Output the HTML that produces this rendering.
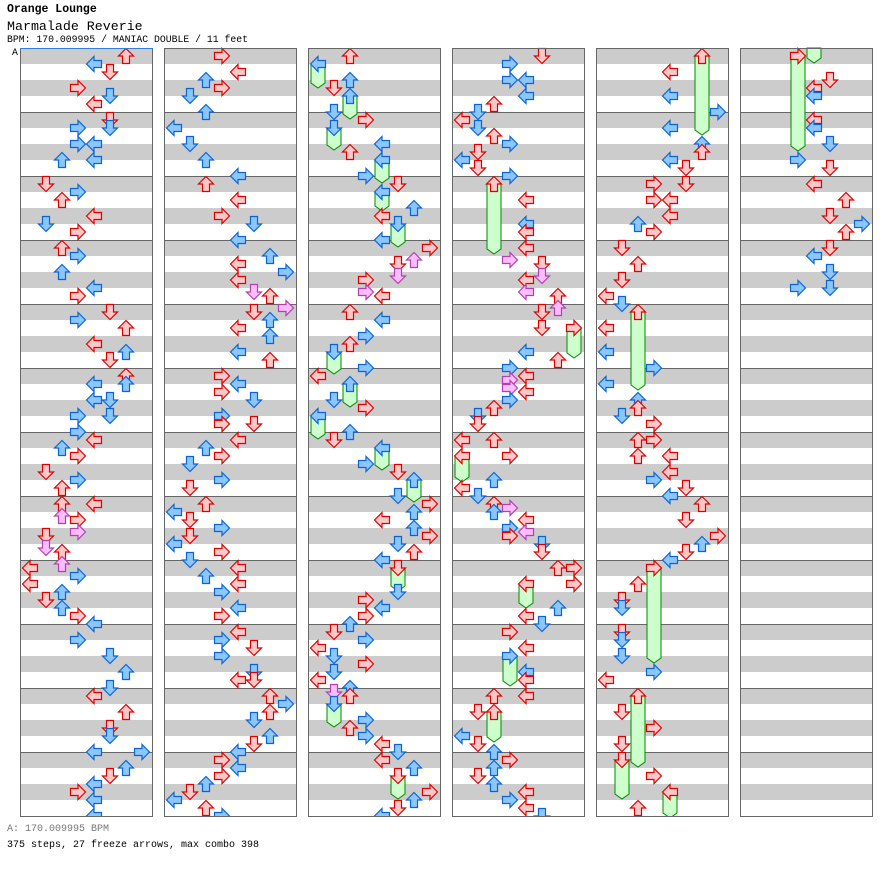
<!DOCTYPE html>
<html><head><meta charset="utf-8">
<style>
body{margin:0;background:#fff;width:896px;height:876px;overflow:hidden;position:relative;font-family:"Liberation Mono",monospace;}
.t{position:absolute;left:7px;white-space:pre;color:#000;}
</style></head><body>
<div class="t" style="top:3px;font-size:11.5px;font-weight:bold;">Orange Lounge</div>
<div class="t" style="top:19px;font-size:13.3px;">Marmalade Reverie</div>
<div class="t" style="top:34px;font-size:9.8px;">BPM: 170.009995 / MANIAC DOUBLE / 11 feet</div>
<div class="t" style="top:47px;left:12px;font-size:9.8px;">A</div>
<div class="t" style="top:824px;font-size:10px;color:#777;">A: 170.009995 BPM</div>
<div class="t" style="top:840px;font-size:10px;">375 steps, 27 freeze arrows, max combo 398</div>
<svg id="s" width="896" height="876" style="position:absolute;left:0;top:0" xmlns="http://www.w3.org/2000/svg"></svg>
<script>
var cols=[
{a:"r6 48,b4 56,r5 64,r3 80,b5 88,r4 96,r5 112,b5 120,b3 120,b3 136,b4 136,b2 152,b4 152,r1 176,b3 184,r2 192,r4 208,b1 216,r3 224,r2 240,b3 248,b2 264,b4 280,r3 288,r5 304,b3 312,r6 320,r4 336,b6 344,r5 352,r6 368,b6 376,b4 376,b4 392,b5 392,b3 408,b5 408,b3 424,r4 432,b2 440,r3 448,r1 464,b3 472,r2 480,r2 496,r4 496,p2 508,r3 512,p3 524,r1 528,p1 540,r2 544,p2 556,r0 560,b3 568,r0 576,b2 584,r1 592,b2 600,r3 608,b4 616,b3 632,b5 648,b6 664,b5 680,r4 688,r6 704,r5 720,b5 728,b4 744,b7 744,b6 760,r5 768,b4 776,r3 784,b4 792,b4 808",f:""},
{a:"r3 48,r4 64,b2 72,r3 80,b1 88,b2 104,b0 120,b1 136,b2 152,b4 168,r2 176,r4 192,r3 208,b5 216,b4 232,b6 248,r4 256,b7 264,r4 272,p5 284,r6 288,p7 300,r5 304,b6 312,r4 320,b6 328,b4 344,r6 352,r3 368,b4 376,r3 384,b5 392,b3 408,r3 416,r5 416,r4 432,b2 440,r3 448,b1 456,b3 472,r1 480,r2 496,b0 504,r1 512,b3 520,r1 528,b0 536,r3 544,b1 552,r4 560,b2 568,r4 576,b3 584,b4 600,r3 608,r4 624,b3 632,r5 640,b3 648,b5 664,r5 672,r4 672,r6 688,b7 696,r6 704,b5 712,b6 728,r5 736,b4 744,r3 752,b4 760,r3 768,b2 776,r1 784,b0 792,r2 800,b3 808",f:""},
{a:"b0 56,r2 48,b2 72,r1 80,b2 88,b1 104,r3 112,b1 120,r2 144,b4 136,b3 168,b4 152,r5 176,b4 184,b6 200,r4 208,b5 216,b4 232,r7 240,p6 252,r5 256,p5 268,r3 272,p3 284,r4 288,r2 304,b4 312,b3 328,r2 336,b1 344,b3 360,r0 368,b2 376,b1 392,r3 400,b0 408,b2 424,r1 432,b4 440,b3 456,r5 464,b6 472,b5 488,r7 496,b6 504,r4 512,b6 520,r7 528,b5 536,r6 544,b4 552,r5 560,b5 584,r3 592,b4 600,r3 608,b2 616,r1 624,b3 632,r0 640,b1 648,r3 656,b1 664,r0 672,b2 680,p1 684,r2 688,b1 696,b3 712,r2 720,b3 728,r4 736,b5 744,r4 752,b6 760,r5 768,r7 784,b6 792,r5 800,b4 808",
 f:"0 56 88,2 88 119,1 120 150,4 152 183,4 184 211,5 216 247,1 344 374,2 376 407,0 408 439,4 440 470,6 472 502,5 560 591,1 696 727,5 768 799"},
{a:"r5 48,b3 56,b3 72,b4 72,b4 88,r2 96,b1 104,r0 112,b1 120,r2 128,b3 136,r1 144,b0 152,r1 160,b3 168,r2 176,r4 192,b4 216,r4 224,r4 240,p3 252,r5 256,p5 268,r4 272,p4 284,r6 288,p6 300,r5 304,r5 320,r7 320,b4 344,r6 352,b3 360,r4 368,p3 372,p3 380,r4 384,b3 392,r2 400,b1 408,r1 416,r0 432,r2 432,r3 448,r0 448,b2 472,r0 480,b1 488,r2 496,p3 500,b2 504,r4 512,b3 520,p4 524,r3 528,b5 536,r5 544,r6 560,r7 560,r7 576,r4 576,b6 600,r4 608,b5 616,r3 624,r4 640,b3 648,b4 664,r4 672,r4 688,r2 688,r1 704,r2 704,b0 728,r1 736,b2 744,r3 752,b2 760,r1 768,b2 776,r4 784,b3 792,r4 800,b5 808",
 f:"2 176 254,7 320 358,0 448 482,4 576 608,3 648 686,2 704 742"},
{a:"r6 48,r4 64,b4 88,b7 104,b4 120,b6 136,r6 144,b4 152,r5 160,r5 176,r3 176,r3 192,r4 192,r4 208,b2 216,r3 224,r1 240,r2 256,r1 272,r0 288,b1 296,r2 304,r0 320,b0 344,b3 360,b0 376,b2 392,r2 400,b1 408,r3 416,r2 432,r3 432,r2 448,r4 448,r4 464,b3 472,r5 480,b4 488,r6 496,r5 512,r7 528,b6 536,r5 544,b4 552,r3 560,r2 576,r1 592,b1 600,r1 624,b1 632,b1 648,b3 664,r0 672,r2 688,r1 704,r3 720,r1 736,r1 752,r3 768,r4 784,r2 800",
 f:"6 48 135,2 304 390,3 560 663,2 688 767,1 752 799,4 784 818"},
{a:"r3 48,r5 72,r4 80,b4 88,r4 112,b4 120,b5 136,b3 152,r5 160,r4 176,r6 192,r5 208,b7 216,r6 224,r5 240,b4 248,b5 264,b3 280,b5 280",
 f:"3 48 151,4 40 63"}
];
var C={r:["#ffc8c8","#e00000"],b:["#8cc6ff","#0a64d8"],p:["#ffbcff","#b040b0"]};
var rot=[0,-90,90,180];
var h='';
cols.forEach(function(c,i){
 var x0=20+144*i;
 for(var m=0;m<12;m++){var y=48+64*m;
  h+='<rect x="'+x0+'" y="'+y+'" width="132" height="16" fill="#cccccc"/><rect x="'+x0+'" y="'+(y+32)+'" width="132" height="16" fill="#cccccc"/>';
  if(m>0)h+='<line x1="'+x0+'" x2="'+(x0+132)+'" y1="'+(y+0.5)+'" y2="'+(y+0.5)+'" stroke="#666"/>';}
});
h+='<g clip-path="url(#cp)">';
cols.forEach(function(c,i){
 var x0=20+144*i;
 if(c.f)c.f.split(',').forEach(function(t){var p=t.split(' ').map(Number);var cx=x0+10+16*p[0];var ys=p[1]+8,E=p[2];
  h+='<polygon points="'+(cx-7)+','+ys+' '+(cx+7)+','+ys+' '+(cx+7)+','+(E-5)+' '+cx+','+E+' '+(cx-7)+','+(E-5)+'" fill="#ccffcc" stroke="#008800" stroke-width="1"/>';});
});
cols.forEach(function(c,i){
 var x0=20+144*i;
 c.a.split(',').forEach(function(t){var col=C[t[0]];var ln=+t.substr(1,1);var y=+t.split(' ')[1];var cx=x0+10+16*ln,cy=y+8;
  h+='<polygon transform="translate('+cx+','+cy+') rotate('+rot[ln%4]+')" points="-7.5,0 0,-7.5 0,-3.5 7.5,-3.5 7.5,3.5 0,3.5 0,7.5" fill="'+col[0]+'" stroke="'+col[1]+'" stroke-width="1.2"/>';});
});
h+='</g>';
cols.forEach(function(c,i){var x0=20+144*i;h+='<rect x="'+(x0+0.5)+'" y="48.5" width="132" height="768" fill="none" stroke="#666"/>';});
h+='<line x1="20" x2="153" y1="48.5" y2="48.5" stroke="#3080e0"/>';
var cp='<defs><clipPath id="cp">';
for(var i=0;i<6;i++)cp+='<rect x="'+(20+144*i)+'" y="40" width="133" height="777"/>';
cp+='</clipPath></defs>';
document.getElementById('s').innerHTML=cp+h;
</script>
</body></html>
